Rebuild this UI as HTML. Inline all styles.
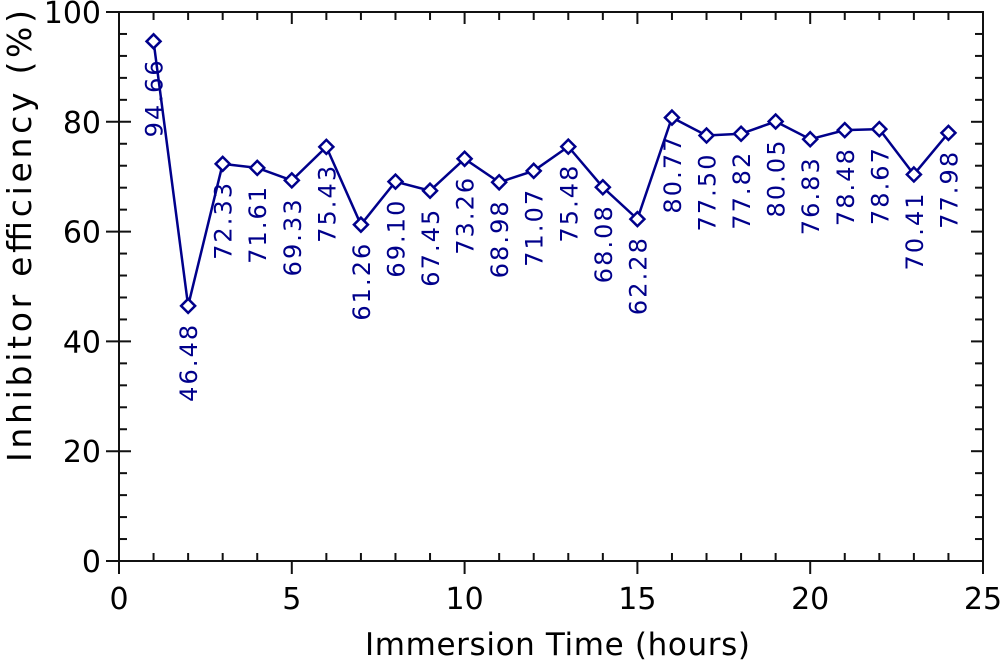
<!DOCTYPE html>
<html><head><meta charset="utf-8"><style>
html,body{margin:0;padding:0;background:#fff;}
svg{display:block;font-family:"DejaVu Sans","Liberation Sans",sans-serif;}
</style></head><body>
<svg id="chart" width="1000" height="662" viewBox="0 0 1000 662" xmlns="http://www.w3.org/2000/svg"></svg>
<script>
const hours = [1,2,3,4,5,6,7,8,9,10,11,12,13,14,15,16,17,18,19,20,21,22,23,24];
const efficiency = [94.66,46.48,72.33,71.61,69.33,75.43,61.26,69.10,67.45,73.26,68.98,71.07,75.48,68.08,62.28,80.77,77.50,77.82,80.05,76.83,78.48,78.67,70.41,77.98];
const xTicks = [0,5,10,15,20,25];
const yTicks = [0,20,40,60,80,100];

const L=119,R=983,T=12,B=561;
const sx=v=>L+(v-0)/25*(R-L);
const sy=v=>B-(v-0)/100*(B-T);
const svg=document.getElementById('chart');
const NS='http://www.w3.org/2000/svg';
function mk(tag,attrs,parent){const e=document.createElementNS(NS,tag);for(const k in attrs)e.setAttribute(k,attrs[k]);(parent||svg).appendChild(e);return e;}
const axisCol='#111';
const frame=mk('rect',{x:L,y:T,width:R-L,height:B-T,fill:'none',stroke:axisCol,'stroke-width':2});


for(let v=0;v<=25;v++){
  const x=sx(v);const major=v%5===0;
  const t1=mk('line',{x1:x,y1:B,x2:x,y2:major?B+13:B-8,stroke:axisCol,'stroke-width':2});
  
  
  const t2=mk('line',{x1:x,y1:T,x2:x,y2:T+(major?12:8),stroke:axisCol,'stroke-width':2});
  
  
}
for(let v=0;v<=100;v+=4){
  const y=sy(v);const major=v%20===0;
  const t1=mk('line',{x1:major?L-13:L,y1:y,x2:major?L+12:L+8,y2:y,stroke:axisCol,'stroke-width':2});
  
  
  const t2=mk('line',{x1:R,y1:y,x2:R-(major?12:8),y2:y,stroke:axisCol,'stroke-width':2});
  
  
}
xTicks.forEach(v=>{
  const t=mk('text',{x:sx(v),y:B+48,'text-anchor':'middle','font-size':30,fill:'#000'});
  t.textContent=v;
  
  
});
yTicks.forEach(v=>{
  const t=mk('text',{x:L-18,y:sy(v)+11,'text-anchor':'end','font-size':30,fill:'#000'});
  t.textContent=v;
  
  
});
const xt=mk('text',{x:365,y:655,'font-size':31,fill:'#000',textLength:385,lengthAdjust:'spacing'});
xt.textContent='Immersion Time (hours)';


const yt=mk('text',{x:0,y:0,'font-size':33,fill:'#000',textLength:452,lengthAdjust:'spacing',transform:`translate(31,462) rotate(-90)`});
yt.textContent='Inhibitor efficiency (%)';


const col='#00008b';
const pts=hours.map((h,i)=>sx(h)+','+sy(efficiency[i])).join(' ');
const line=mk('polyline',{points:pts,fill:'none',stroke:col,'stroke-width':2.5});


hours.forEach((h,i)=>{
  const x=sx(h),y=sy(efficiency[i]);
  const m=mk('polygon',{points:`${x},${y-7} ${x+7},${y} ${x},${y+7} ${x-7},${y}`,fill:'#fff',stroke:col,'stroke-width':2.5});
  
  
  const t=mk('text',{x:0,y:0,'text-anchor':'end','font-size':24,fill:col,textLength:77,lengthAdjust:'spacing',transform:`translate(${x+9},${y+19}) rotate(-90)`});
  t.textContent=efficiency[i].toFixed(2);
  
  
});
</script>
</body></html>
